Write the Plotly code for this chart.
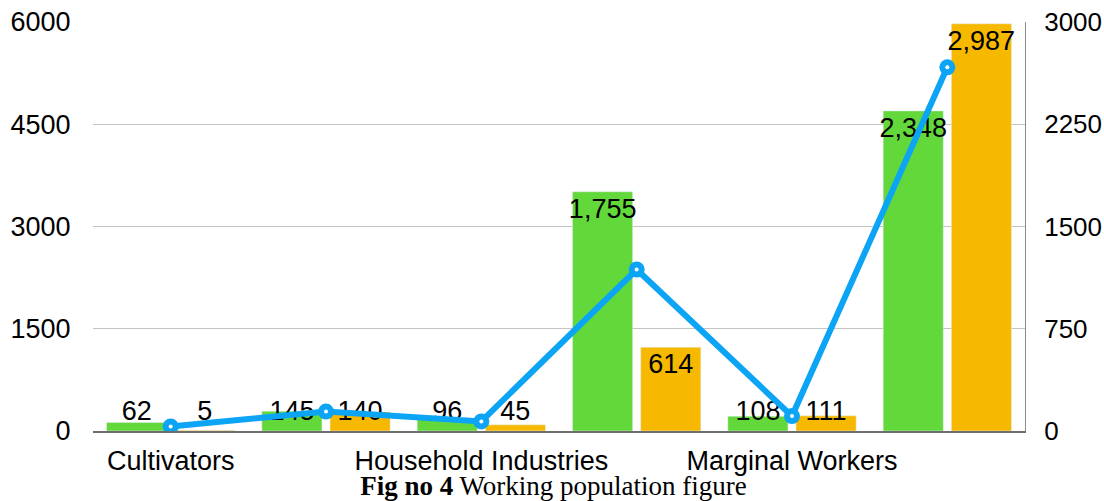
import plotly.graph_objects as go

categories = ["Cultivators", "Agricultural Labourers", "Household Industries",
              "Other Workers", "Marginal Workers", "Total Workers"]
series_a = [62, 145, 96, 1755, 108, 2348]   # green bars (right axis)
series_b = [5, 140, 45, 614, 111, 2987]     # orange bars (right axis)
totals = [a + b for a, b in zip(series_a, series_b)]  # line (left axis)
left_ticks = [0, 1500, 3000, 4500, 6000]
right_ticks = [0, 750, 1500, 2250, 3000]

GREEN = "#62D83A"
ORANGE = "#F6B900"
BLUE = "#0CA4F5"
FONT = "Liberation Sans"
FS = 27

xs = list(range(len(categories)))
bar_w = 0.387
lab_off = 0.219

def fmt(v):
    return f"{v:,}"

def label_y(v):
    return max(v - 140, 130)

fig = go.Figure()
# bars on primary axis (drawn on the right side, 0-3000)
fig.add_trace(go.Bar(x=xs, y=series_a, yaxis="y", marker_color=GREEN,
                     width=bar_w, offset=-0.413, name="Series A"))
fig.add_trace(go.Bar(x=xs, y=series_b, yaxis="y", marker_color=ORANGE,
                     width=bar_w, offset=0.026, name="Series B"))
# value labels on the bar axis
fig.add_trace(go.Scatter(x=[x - lab_off for x in xs], y=[label_y(v) for v in series_a],
                         yaxis="y", mode="text", text=[fmt(v) for v in series_a],
                         textfont=dict(family=FONT, size=FS, color="black"),
                         textposition="middle center", hoverinfo="skip"))
fig.add_trace(go.Scatter(x=[x + lab_off for x in xs], y=[label_y(v) for v in series_b],
                         yaxis="y", mode="text", text=[fmt(v) for v in series_b],
                         textfont=dict(family=FONT, size=FS, color="black"),
                         textposition="middle center", hoverinfo="skip"))
# line on overlaying axis (left side, 0-6000) so it draws above bars
fig.add_trace(go.Scatter(x=xs, y=totals, yaxis="y2", mode="lines+markers",
                         line=dict(color=BLUE, width=6),
                         marker=dict(size=16, color=BLUE), name="Total"))
fig.add_trace(go.Scatter(x=xs, y=totals, yaxis="y2", mode="markers",
                         marker=dict(size=4, color="white"), hoverinfo="skip"))

fig.update_layout(
    width=1104, height=501,
    margin=dict(l=93, r=79, t=22, b=70, autoexpand=False),
    paper_bgcolor="white", plot_bgcolor="white",
    showlegend=False, barmode="overlay",
    font=dict(family=FONT, size=FS, color="black"),
    xaxis=dict(range=[-0.5, len(categories) - 0.5],
               tickvals=xs[::2], ticktext=categories[::2],
               showgrid=False, zeroline=False, automargin=False,
               showline=True, linecolor="#6E6E6E", linewidth=1.5,
               ticks="outside", ticklen=5, tickcolor="rgba(0,0,0,0)",
               tickfont=dict(size=FS)),
    yaxis=dict(range=[0, 3000], tickvals=right_ticks, side="right",
               showgrid=True, gridcolor="#C4C4C4", gridwidth=1,
               zeroline=False, automargin=False,
               showline=True, linecolor="#8A8A8A", linewidth=1,
               ticks="outside", ticklen=13, tickcolor="rgba(0,0,0,0)",
               tickfont=dict(size=26)),
    yaxis2=dict(range=[0, 6000], tickvals=left_ticks, overlaying="y", side="left",
                showgrid=False, zeroline=False, showline=False, automargin=False,
                ticks="outside", ticklen=16, tickcolor="rgba(0,0,0,0)",
                tickfont=dict(size=FS)),
    title=dict(text="<b>Fig no 4</b> Working population figure",
               font=dict(family="Liberation Serif", size=FS, color="black"),
               xref="container", x=553.5 / 1104, xanchor="center",
               yref="container", y=0.03, yanchor="middle", automargin=False),
)

fig.write_html("out.html", config={"displayModeBar": False},
               post_script="document.body.style.margin='0px';document.body.style.overflow='hidden';")
